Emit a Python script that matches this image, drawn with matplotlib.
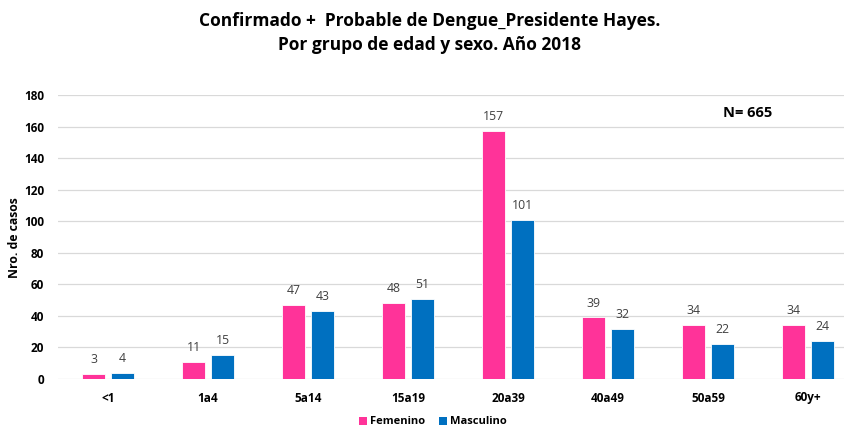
import numpy as np
import matplotlib
matplotlib.use('Agg')
import matplotlib.pyplot as plt
from matplotlib.patches import Patch

categories = ['<1', '1a4', '5a14', '15a19', '20a39', '40a49', '50a59', '60y+']
femenino = [3, 11, 47, 48, 157, 39, 34, 34]
masculino = [4, 15, 43, 51, 101, 32, 22, 24]

pink = '#FF3399'
blue = '#0070C0'
font = ['Open Sans', 'DejaVu Sans']
plt.rcParams['font.family'] = font

fig = plt.figure(figsize=(8.45, 4.28), dpi=100)
ax = fig.add_axes([58/845, 49/428, 787/845, 284/428])

x = np.arange(len(categories))
w = 0.23
off = 0.145
b1 = ax.bar(x - off, femenino, w, color=pink, edgecolor='#ffffff', linewidth=0.6, zorder=3)
b2 = ax.bar(x + off, masculino, w, color=blue, edgecolor='#ffffff', linewidth=0.6, zorder=3)

for bars, vals in ((b1, femenino), (b2, masculino)):
    for r, v in zip(bars, vals):
        ax.text(r.get_x() + r.get_width()/2, v + 5, str(v), ha='center', va='bottom',
                fontsize=8.8, color='#404040')

ax.set_xlim(-0.5, 7.37)
ax.set_ylim(0, 180)
ax.set_yticks(range(0, 181, 20))
ax.set_xticks(x)
ax.set_xticklabels(categories, fontsize=8.5, fontweight='bold', color='#000000')
for t in ax.get_yticklabels():
    t.set_fontsize(8.5)
    t.set_fontweight('bold')
ax.tick_params(length=0)
ax.tick_params(axis='y', pad=10)
ax.tick_params(axis='x', pad=9)
ax.grid(axis='y', color='#D9D9D9', linewidth=0.9, zorder=0)
for s in ax.spines.values():
    s.set_visible(False)

fig.text(15/845, 1 - 238/428, 'Nro. de casos', rotation=90, ha='center', va='center',
         fontsize=8.8, fontweight='bold')

fig.text(430/845, 1 - 21/428, 'Confirmado +  Probable de Dengue_Presidente Hayes.',
         ha='center', va='center', fontsize=12.5, fontweight='bold')
fig.text(430/845, 1 - 45/428, 'Por grupo de edad y sexo. Año 2018',
         ha='center', va='center', fontsize=12.5, fontweight='bold')

fig.text(748/845, 1 - 113/428, 'N= 665', ha='center', va='center', fontsize=10.5, fontweight='bold')

handles = [Patch(facecolor=pink), Patch(facecolor=blue)]
fig.legend(handles, ['Femenino', 'Masculino'], loc='center', bbox_to_anchor=(433/845, 1 - 422/428),
           ncol=2, frameon=False, prop={'size': 8, 'weight': 'bold'},
           handlelength=0.7, handleheight=0.7, handletextpad=0.3, columnspacing=1.2)

fig.savefig('out.png', dpi=100)
